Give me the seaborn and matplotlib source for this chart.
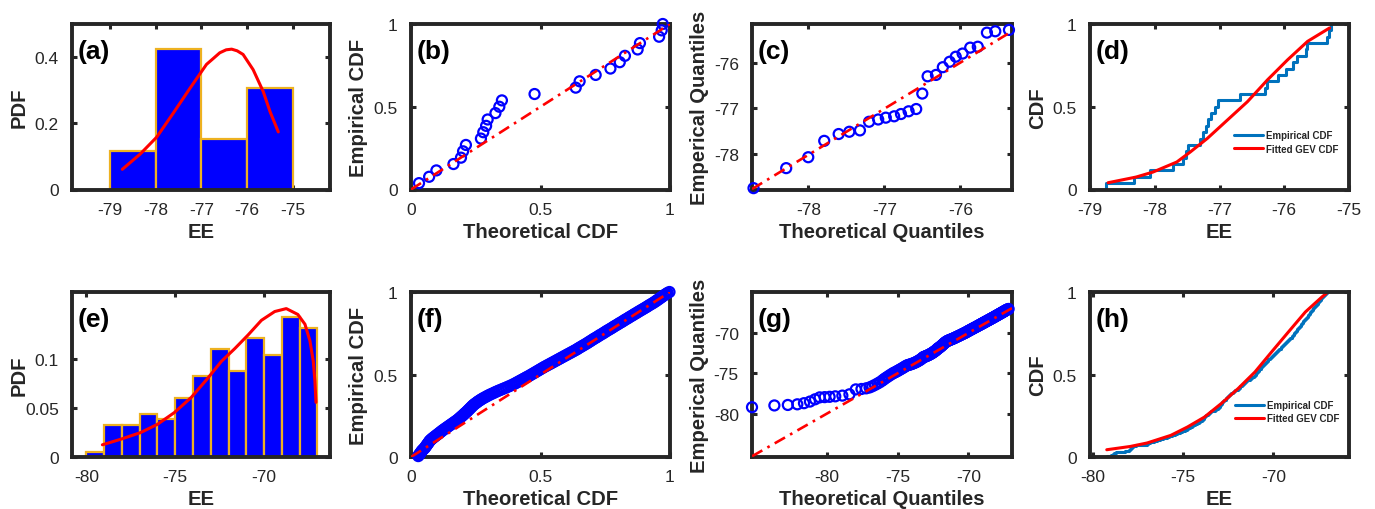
import numpy as np
import matplotlib
matplotlib.use("Agg")
import matplotlib.pyplot as plt
import seaborn as sns
from matplotlib.ticker import FuncFormatter

# ------------------------------------------------------------------
# Data set 1 (top row): 26 EE values, GEV fit diagnostics
# ------------------------------------------------------------------
ee_top = [-78.76, -78.32, -78.08, -77.72, -77.57, -77.52, -77.49, -77.30,
          -77.25, -77.21, -77.18, -77.13, -77.07, -77.02, -76.68, -76.30,
          -76.27, -76.10, -75.98, -75.87, -75.80, -75.67, -75.65, -75.34,
          -75.31, -75.28]
hist_edges_top = [-79, -78, -77, -76, -75]
theo_cdf_top = [0.031, 0.070, 0.098, 0.164, 0.193, 0.201, 0.212, 0.270,
                0.279, 0.290, 0.296, 0.326, 0.341, 0.351, 0.477, 0.636,
                0.651, 0.713, 0.770, 0.806, 0.826, 0.875, 0.884, 0.958,
                0.968, 0.972]
theo_q_top = [-78.72, -78.29, -78.00, -77.79, -77.60, -77.46, -77.32, -77.20,
              -77.08, -76.98, -76.87, -76.78, -76.68, -76.58, -76.50, -76.43,
              -76.32, -76.23, -76.14, -76.06, -75.97, -75.87, -75.77, -75.65,
              -75.54, -75.36]
qq_ref_top_x = [-78.74, -75.32]
qq_ref_top_y = [-78.78, -75.31]
gev_pdf_top_x = [-78.73, -78.34, -77.98, -77.62, -77.25, -76.89, -76.74, -76.60,
                 -76.46, -76.34, -76.22, -76.09, -75.87, -75.65, -75.50, -75.32]
gev_pdf_top_y = [0.061, 0.107, 0.158, 0.230, 0.306, 0.378, 0.396, 0.413,
                 0.422, 0.424, 0.419, 0.408, 0.362, 0.296, 0.235, 0.174]
gev_cdf_top_x = [-78.72, -78.29, -78.03, -77.66, -77.45, -77.19, -76.88, -76.57,
                 -76.26, -75.95, -75.64, -75.30]
gev_cdf_top_y = [0.041, 0.075, 0.105, 0.166, 0.227, 0.308, 0.419, 0.530,
                 0.662, 0.783, 0.895, 0.976]

# ------------------------------------------------------------------
# Data set 2 (bottom row): 181 EE values, GEV fit diagnostics
# ------------------------------------------------------------------
ee_bot = [
    -79.20,
    -78.98, -78.92, -78.84, -78.70, -78.50, -78.22,
    -77.98, -77.95, -77.91, -77.85, -77.76, -77.60,
    -76.99, -76.94, -76.86, -76.75, -76.60, -76.44, -76.27, -76.10,
    -75.90, -75.76, -75.62, -75.48, -75.34, -75.20, -75.07,
    -74.96, -74.88, -74.80, -74.71, -74.62, -74.53, -74.44, -74.34, -74.24,
    -74.14, -74.05,
    -73.98, -73.95, -73.91, -73.87, -73.82, -73.77, -73.71, -73.65, -73.58,
    -73.51, -73.43, -73.35, -73.26, -73.16, -73.06,
    -72.99, -72.96, -72.93, -72.90, -72.86, -72.82, -72.78, -72.74, -72.70,
    -72.65, -72.60, -72.55, -72.50, -72.44, -72.38, -72.32, -72.26, -72.19,
    -72.12, -72.05,
    -71.97, -71.92, -71.87, -71.82, -71.76, -71.70, -71.64, -71.58, -71.51,
    -71.44, -71.37, -71.30, -71.23, -71.16, -71.09, -71.03,
    -70.98, -70.94, -70.90, -70.86, -70.82, -70.78, -70.74, -70.70, -70.66,
    -70.61, -70.57, -70.52, -70.47, -70.42, -70.37, -70.32, -70.27, -70.22,
    -70.16, -70.11, -70.06, -70.02,
    -69.97, -69.92, -69.87, -69.81, -69.76, -69.71, -69.66, -69.60, -69.55,
    -69.50, -69.45, -69.39, -69.34, -69.29, -69.24, -69.18, -69.13, -69.08,
    -69.03,
    -68.98, -68.94, -68.90, -68.86, -68.83, -68.79, -68.75, -68.71, -68.67,
    -68.63, -68.60, -68.56, -68.52, -68.48, -68.44, -68.40, -68.37, -68.33,
    -68.29, -68.25, -68.21, -68.17, -68.14, -68.10, -68.06, -68.02,
    -67.98, -67.94, -67.90, -67.86, -67.82, -67.78, -67.74, -67.70, -67.66,
    -67.62, -67.58, -67.54, -67.50, -67.46, -67.42, -67.38, -67.34, -67.30,
    -67.26, -67.22, -67.17, -67.12, -67.07, -67.02,
]
hist_edges_bot = [-80, -79, -78, -77, -76, -75, -74, -73, -72, -71, -70, -69,
                  -68, -67]
theo_cdf_bot = [
    0.028, 0.030, 0.033, 0.035, 0.038, 0.040, 0.043, 0.046, 0.050, 0.053,
    0.056, 0.058, 0.061, 0.063, 0.066, 0.068, 0.071, 0.073, 0.077, 0.081,
    0.085, 0.090, 0.094, 0.099, 0.103, 0.108, 0.112, 0.117, 0.121, 0.126,
    0.131, 0.136, 0.141, 0.146, 0.151, 0.156, 0.161, 0.166, 0.171, 0.176,
    0.181, 0.185, 0.189, 0.193, 0.197, 0.201, 0.205, 0.208, 0.213, 0.216,
    0.220, 0.223, 0.227, 0.230, 0.234, 0.237, 0.241, 0.245, 0.250, 0.255,
    0.259, 0.265, 0.270, 0.276, 0.282, 0.289, 0.295, 0.302, 0.309, 0.317,
    0.324, 0.332, 0.340, 0.349, 0.357, 0.366, 0.374, 0.382, 0.390, 0.397,
    0.404, 0.410, 0.417, 0.423, 0.430, 0.436, 0.443, 0.449, 0.456, 0.462,
    0.468, 0.474, 0.480, 0.486, 0.492, 0.498, 0.504, 0.510, 0.516, 0.523,
    0.529, 0.536, 0.542, 0.549, 0.555, 0.562, 0.568, 0.575, 0.581, 0.588,
    0.594, 0.601, 0.607, 0.614, 0.620, 0.627, 0.633, 0.640, 0.645, 0.651,
    0.657, 0.663, 0.669, 0.675, 0.681, 0.686, 0.692, 0.697, 0.703, 0.708,
    0.715, 0.720, 0.726, 0.731, 0.738, 0.743, 0.749, 0.754, 0.760, 0.766,
    0.772, 0.778, 0.783, 0.789, 0.795, 0.801, 0.806, 0.813, 0.818, 0.824,
    0.829, 0.836, 0.841, 0.847, 0.853, 0.859, 0.864, 0.871, 0.876, 0.882,
    0.888, 0.894, 0.900, 0.906, 0.912, 0.917, 0.923, 0.929, 0.935, 0.940,
    0.946, 0.950, 0.956, 0.960, 0.966, 0.970, 0.976, 0.980, 0.986, 0.991,
    0.998,
]
theo_q_bot = [
    -85.28,
    -83.70, -82.75, -82.08, -81.61, -81.19, -80.83,
    -80.50, -80.15, -79.80, -79.40, -78.90, -78.40,
    -77.95, -77.55, -77.22, -76.98, -76.78, -76.60, -76.42, -76.25,
    -76.08, -75.98, -75.87, -75.75, -75.63, -75.51, -75.39,
    -75.29, -75.19, -75.10, -75.01, -74.92, -74.83, -74.74, -74.64, -74.55,
    -74.46, -74.37,
    -74.28, -74.21, -74.13, -74.05, -73.98, -73.90, -73.82, -73.74, -73.66,
    -73.59, -73.51, -73.43, -73.36, -73.28, -73.22,
    -73.17, -73.12, -73.08, -73.02, -72.98, -72.92, -72.87, -72.82, -72.78,
    -72.72, -72.67, -72.63, -72.57, -72.52, -72.47, -72.43, -72.37, -72.32,
    -72.27, -72.22,
    -72.19, -72.15, -72.10, -72.06, -72.02, -71.98, -71.93, -71.89, -71.85,
    -71.81, -71.76, -71.72, -71.68, -71.63, -71.57, -71.52,
    -71.47, -71.42, -71.36, -71.31, -71.25, -71.20, -71.14, -71.09, -71.03,
    -70.98, -70.92, -70.87, -70.81, -70.75, -70.69, -70.63, -70.57, -70.51,
    -70.45, -70.39, -70.33, -70.28,
    -70.22, -70.17, -70.12, -70.06, -70.01, -69.96, -69.90, -69.84, -69.79,
    -69.73, -69.68, -69.62, -69.56, -69.51, -69.45, -69.39, -69.34, -69.29,
    -69.23,
    -69.18, -69.14, -69.10, -69.06, -69.02, -68.98, -68.94, -68.90, -68.86,
    -68.82, -68.78, -68.74, -68.70, -68.66, -68.62, -68.58, -68.54, -68.50,
    -68.46, -68.42, -68.38, -68.34, -68.30, -68.26, -68.22, -68.18,
    -68.14, -68.10, -68.06, -68.02, -67.98, -67.94, -67.90, -67.86, -67.82,
    -67.78, -67.74, -67.70, -67.66, -67.62, -67.58, -67.54, -67.50, -67.46,
    -67.42, -67.38, -67.34, -67.29, -67.23, -67.16,
]
qq_ref_bot_x = [-85.28, -66.92]
qq_ref_bot_y = [-85.28, -66.92]
gev_pdf_bot_x = [-79.10, -78.10, -76.95, -76.00, -75.05, -74.10, -73.20, -72.40,
                 -71.65, -70.90, -70.15, -69.40, -68.75, -68.10, -67.70, -67.42,
                 -67.23, -67.14, -67.08]
gev_pdf_bot_y = [0.0125, 0.018, 0.025, 0.0335, 0.0455, 0.061, 0.080, 0.098,
                 0.111, 0.125, 0.140, 0.149, 0.152, 0.146, 0.136, 0.119,
                 0.098, 0.078, 0.056]
gev_cdf_bot_x = [-79.24, -77.93, -77.00, -75.69, -74.76, -73.82, -72.90, -71.96,
                 -71.02, -70.10, -69.16, -68.22, -67.30, -66.96]
gev_cdf_bot_y = [0.044, 0.064, 0.085, 0.131, 0.182, 0.242, 0.323, 0.414,
                 0.515, 0.636, 0.758, 0.879, 0.970, 1.000]

panel_tags = ["(a)", "(b)", "(c)", "(d)", "(e)", "(f)", "(g)", "(h)"]

# ------------------------------------------------------------------
# Style
# ------------------------------------------------------------------
sns.set_theme(style="white")
DARK = "#262626"
plt.rcParams.update({
    "font.family": ["Liberation Sans", "DejaVu Sans"],
    "axes.unicode_minus": False,
    "axes.edgecolor": DARK,
    "axes.linewidth": 2.8,
    "axes.labelcolor": DARK,
    "axes.labelsize": 14.6,
    "axes.labelweight": "bold",
    "axes.grid": False,
    "xtick.direction": "in", "ytick.direction": "in",
    "xtick.top": True, "xtick.bottom": True,
    "ytick.left": True, "ytick.right": True,
    "xtick.major.size": 3.8, "ytick.major.size": 3.8,
    "xtick.major.width": 2.2, "ytick.major.width": 2.2,
    "xtick.color": DARK, "ytick.color": DARK,
    "xtick.labelsize": 12.5, "ytick.labelsize": 12.5,
    "xtick.major.pad": 9, "ytick.major.pad": 9.5,
})

BLUE = "#0000FF"
EDGE = "#EDB120"
ECDF_BLUE = "#0072BD"
RED = "#FF0000"
DASHDOT = (0, (4.5, 2.2, 1.0, 2.2))

W, H = 1375, 510
fig = plt.figure(figsize=(W / 100, H / 100), dpi=100)
col_left = [72, 411, 752, 1090]
col_width = [258, 259, 260, 259]
row_span = [(25, 190.5), (293, 458)]


def make_ax(r, c):
    top, bot = row_span[r]
    ax = fig.add_axes([col_left[c] / W, 1 - bot / H,
                       col_width[c] / W, (bot - top) / H])
    ax._px_size = (col_width[c], bot - top)
    return ax


fmt = FuncFormatter(lambda v, p: f"{v:g}")


def finish(ax, tag, xlabel, ylabel, xlim, ylim, xticks, yticks):
    ax.set_xlim(*xlim)
    ax.set_ylim(*ylim)
    ax.set_xticks(xticks)
    ax.set_yticks(yticks)
    ax.xaxis.set_major_formatter(fmt)
    ax.yaxis.set_major_formatter(fmt)
    wpx, hpx = ax._px_size
    ax.set_xlabel(xlabel)
    ax.set_ylabel(ylabel)
    ax.xaxis.set_label_coords(0.5, -42.0 / hpx)
    ax.yaxis.set_label_coords(-52.5 / wpx, 0.5)
    ax.xaxis.label.set_va("center")
    ax.yaxis.label.set_va("center")
    for s in ax.spines.values():
        s.set_visible(True)
        s.set_color(DARK)
        s.set_linewidth(2.8)
    ax.text(0.022, 0.835, tag, transform=ax.transAxes, fontsize=19,
            fontweight="bold", color="black", ha="left", va="center",
            zorder=6)


def hist_panel(ax, data, edges, px, py):
    sns.histplot(x=data, bins=edges, stat="density", ax=ax, color=BLUE,
                 edgecolor=EDGE, linewidth=1.6, alpha=1)
    sns.lineplot(x=px, y=py, ax=ax, color=RED, lw=2.2, sort=False,
                 estimator=None, zorder=4)


def pp_panel(ax, theo_cdf):
    n = len(theo_cdf)
    emp = np.arange(1, n + 1) / n
    sns.scatterplot(x=theo_cdf, y=emp, ax=ax, marker="o", s=52,
                    facecolors="none", edgecolor=BLUE, linewidth=1.6,
                    zorder=3, clip_on=False)
    sns.lineplot(x=[0, 1], y=[0, 1], ax=ax, color=RED, lw=1.9,
                 linestyle=DASHDOT, zorder=4)


def qq_panel(ax, theo_q, sample, rx, ry):
    sns.scatterplot(x=theo_q, y=sample, ax=ax, marker="o", s=52,
                    facecolors="none", edgecolor=BLUE, linewidth=1.6,
                    zorder=3, clip_on=False)
    sns.lineplot(x=rx, y=ry, ax=ax, color=RED, lw=1.9,
                 linestyle=DASHDOT, zorder=4)


def cdf_panel(ax, sample, cx, cy, leg_anchor):
    sns.ecdfplot(x=sample, ax=ax, color=ECDF_BLUE, lw=2.2,
                 label="Empirical CDF")
    sns.lineplot(x=cx, y=cy, ax=ax, color=RED, lw=2.2, sort=False,
                 estimator=None, label="Fitted GEV CDF")
    ax.legend(loc="center left", bbox_to_anchor=leg_anchor, frameon=False,
              prop={"weight": "bold", "size": 7}, handlelength=3.0,
              handletextpad=0.3, labelspacing=0.35, borderpad=0,
              borderaxespad=0)


# ---- top row ----
ax = make_ax(0, 0)
hist_panel(ax, ee_top, hist_edges_top, gev_pdf_top_x, gev_pdf_top_y)
finish(ax, panel_tags[0], "EE", "PDF", (-79.83, -74.19), (0, 0.5),
       [-79, -78, -77, -76, -75], [0, 0.2, 0.4])

ax = make_ax(0, 1)
pp_panel(ax, theo_cdf_top)
finish(ax, panel_tags[1], "Theoretical CDF", "Empirical CDF", (0, 1), (0, 1),
       [0, 0.5, 1], [0, 0.5, 1])

ax = make_ax(0, 2)
qq_panel(ax, theo_q_top, ee_top, qq_ref_top_x, qq_ref_top_y)
finish(ax, panel_tags[2], "Theoretical Quantiles", "Emperical Quantiles",
       (-78.74, -75.32), (-78.79, -75.15), [-78, -77, -76], [-78, -77, -76])

ax = make_ax(0, 3)
cdf_panel(ax, ee_top, gev_cdf_top_x, gev_cdf_top_y, (0.555, 0.287))
finish(ax, panel_tags[3], "EE", "CDF", (-79, -75), (0, 1),
       [-79, -78, -77, -76, -75], [0, 0.5, 1])

# ---- bottom row ----
ax = make_ax(1, 0)
hist_panel(ax, ee_bot, hist_edges_bot, gev_pdf_bot_x, gev_pdf_bot_y)
finish(ax, panel_tags[4], "EE", "PDF", (-80.81, -66.29), (0, 0.169),
       [-80, -75, -70], [0, 0.05, 0.1])

ax = make_ax(1, 1)
pp_panel(ax, theo_cdf_bot)
finish(ax, panel_tags[5], "Theoretical CDF", "Empirical CDF", (0, 1), (0, 1),
       [0, 0.5, 1], [0, 0.5, 1])

ax = make_ax(1, 2)
qq_panel(ax, theo_q_bot, ee_bot, qq_ref_bot_x, qq_ref_bot_y)
finish(ax, panel_tags[6], "Theoretical Quantiles", "Emperical Quantiles",
       (-85.28, -66.92), (-85.37, -64.92), [-80, -75, -70], [-80, -75, -70])

ax = make_ax(1, 3)
cdf_panel(ax, ee_bot, gev_cdf_bot_x, gev_cdf_bot_y, (0.56, 0.275))
finish(ax, panel_tags[7], "EE", "CDF", (-80.17, -65.8), (0, 1),
       [-80, -75, -70], [0, 0.5, 1])

fig.savefig("out.png", dpi=100)
